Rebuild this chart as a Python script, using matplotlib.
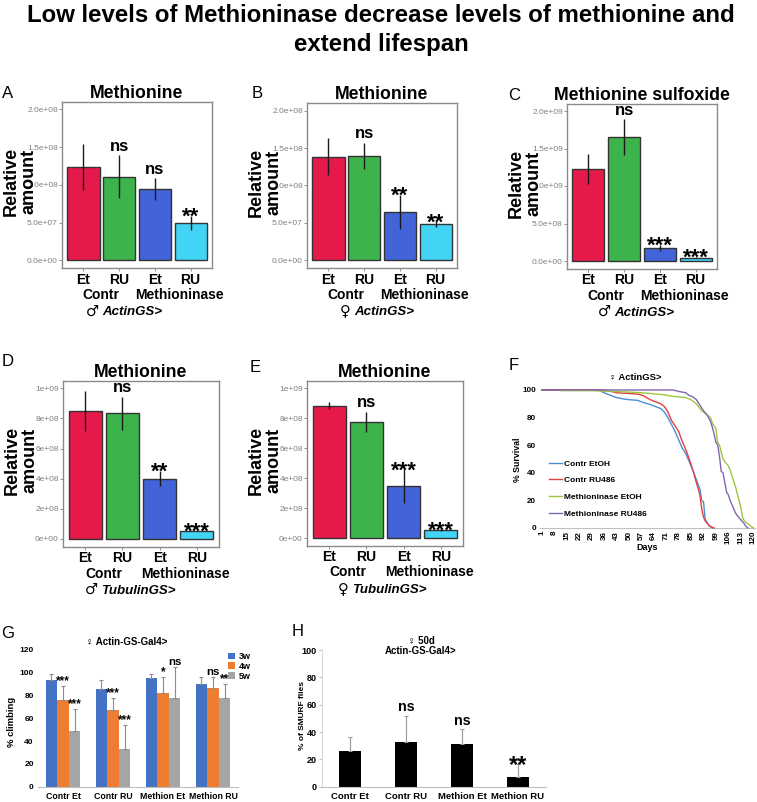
import matplotlib
matplotlib.use('Agg')
import matplotlib.pyplot as plt
from matplotlib.transforms import blended_transform_factory
import numpy as np

W, H = 757, 802
plt.rcParams['font.family'] = ['Liberation Sans', 'DejaVu Sans']
plt.rcParams['axes.linewidth'] = 0.8

# ---------------- data ----------------
main_title_1 = 'Low levels of Methioninase decrease levels of methionine and'
main_title_2 = 'extend lifespan'

bar_groups = ['Et', 'RU', 'Et', 'RU']
genotype_labels = ['Contr', 'Methioninase']
bar_colors = ['#e6194b', '#3cb44b', '#4363d8', '#42d4f4']

A_title = 'Methionine'
A_mean = [1.24e8, 1.11e8, 0.945e8, 0.495e8]
A_se = [0.305e8, 0.28e8, 0.145e8, 0.09e8]
A_sig = ['', 'ns', 'ns', '**']
A_driver = '\u2642 ActinGS>'

B_title = 'Methionine'
B_mean = [1.385e8, 1.394e8, 0.65e8, 0.486e8]
B_se = [0.25e8, 0.18e8, 0.227e8, 0.035e8]
B_sig = ['', 'ns', '**', '**']
B_driver = '\u2640 ActinGS>'

AB_ticks = [0, 5e7, 1e8, 1.5e8, 2e8]
AB_ticklabels = ['0.0e+00', '5.0e+07', '1.0e+08', '1.5e+08', '2.0e+08']

C_title = 'Methionine sulfoxide'
C_mean = [1.222e9, 1.649e9, 0.178e9, 0.044e9]
C_se = [0.2e9, 0.24e9, 0.042e9, 0.006e9]
C_sig = ['', 'ns', '***', '***']
C_ticks = [0, 5e8, 1e9, 1.5e9, 2e9]
C_ticklabels = ['0.0e+00', '5.0e+08', '1.0e+09', '1.5e+09', '2.0e+09']
C_driver = '\u2642 ActinGS>'

D_title = 'Methionine'
D_mean = [0.85e9, 0.834e9, 0.40e9, 0.053e9]
D_se = [0.134e9, 0.111e9, 0.051e9, 0.003e9]
D_sig = ['', 'ns', '**', '***']
D_driver = '\u2642 TubulinGS>'

E_title = 'Methionine'
E_mean = [0.884e9, 0.777e9, 0.347e9, 0.053e9]
E_se = [0.023e9, 0.067e9, 0.111e9, 0.005e9]
E_sig = ['', 'ns', '***', '***']
E_driver = '\u2640 TubulinGS>'

DE_ticks = [0, 2e8, 4e8, 6e8, 8e8, 1e9]
DE_ticklabels = ['0e+00', '2e+08', '4e+08', '6e+08', '8e+08', '1e+09']

# survival (panel F)
surv_title = '\u2640 ActinGS>'
surv_day_ticks = list(range(1, 121, 7))
contr_etoh_days = [1, 33, 36, 40, 43, 47, 50, 55, 58, 62, 65, 68, 70, 72, 74, 76, 78, 80, 82, 84, 86, 88, 90, 91, 92, 93, 95, 97]
contr_etoh_surv = [100, 100, 98, 96, 94.5, 93.5, 93, 92.5, 91, 89.5, 88, 86.5, 84, 80, 75, 70, 64, 58, 54, 48, 42, 35, 28, 20, 19, 6, 2, 0]
contr_ru_days = [1, 35, 40, 43, 50, 55, 58, 62, 65, 68, 70, 72, 74, 76, 78, 80, 82, 84, 86, 88, 90, 91, 92, 93, 95, 96, 98]
contr_ru_surv = [100, 100, 99, 98, 97.5, 97, 96, 93, 91.5, 90, 88, 84, 78, 74, 70, 63, 57, 50, 42, 33, 24, 14, 8, 5, 2, 1, 0]
meth_etoh_days = [12, 30, 40, 50, 57, 62, 66, 70, 74, 78, 82, 85, 88, 91, 94, 96, 97, 98, 99, 100, 101, 102, 103, 104, 106, 107, 108, 109, 110, 111, 112, 113, 114, 115, 117, 119, 120]
meth_etoh_surv = [99.5, 99.5, 99, 98.5, 98, 97.5, 97, 96.5, 95.5, 95, 94.5, 93, 90, 85, 82, 80, 76, 74, 72, 62, 60, 55, 50, 48, 45, 42, 38, 34, 30, 25, 20, 15, 8, 5, 3, 1, 0]
meth_ru_days = [1, 75, 78, 82, 84, 86, 88, 90, 92, 94, 96, 97, 98, 99, 100, 101, 102, 103, 104, 105, 106, 107, 108, 109, 110, 111, 113, 115, 116, 117]
meth_ru_surv = [100, 100, 99, 98, 96, 95, 93, 89, 85, 82, 77, 73, 68, 62, 60, 52, 41, 40, 33, 26, 24, 20, 17, 14, 11, 9, 6, 3, 1, 0]
surv_labels = ['Contr EtOH', 'Contr RU486', 'Methioninase EtOH', 'Methioninase RU486']
surv_colors = ['#4a8fd6', '#e2403f', '#9dc640', '#8466b0']

# climbing (panel G)
climb_title = '\u2640 Actin-GS-Gal4>'
climb_groups = ['Contr Et', 'Contr RU', 'Methion Et', 'Methion RU']
climb_weeks = ['3w', '4w', '5w']
climb_3w = [94, 86, 95, 90]
climb_3w_err = [5, 8, 4, 6]
climb_4w = [76, 67, 82, 87]
climb_4w_err = [12, 11, 14, 9]
climb_5w = [49, 33, 78, 78]
climb_5w_err = [19, 21, 27, 12]
climb_3w_sig = ['', '', '', '']
climb_4w_sig = ['***', '***', '*', 'ns']
climb_5w_sig = ['***', '***', 'ns', '**']
climb_colors = ['#4472c4', '#ed7d31', '#a5a5a5']

# smurf (panel H)
smurf_title = '\u2640 50d\nActin-GS-Gal4>'
smurf_groups = ['Contr Et', 'Contr RU', 'Methion Et', 'Methion RU']
smurf_mean = [26, 33, 31, 7]
smurf_err = [10, 19, 11, 9.5]
smurf_sig = ['', 'ns', 'ns', '**']

# ---------------- figure ----------------
fig = plt.figure(figsize=(W / 100, H / 100), dpi=100)
driver_texts = []


def pax(x0, y0, x1, y1):
    return fig.add_axes([x0 / W, 1 - y1 / H, (x1 - x0) / W, (y1 - y0) / H])


def ftext(x, y, s, **kw):
    return fig.text(x / W, 1 - y / H, s, **kw)


def gg_panel(box, title, mean, se, sig, R, ticks, ticklabels, driver, driver_x):
    x0, y0, x1, y1 = box
    ax = pax(x0, y0, x1, y1)
    xs = np.arange(1, 5)
    mean = np.array(mean)
    se = np.array(se)
    ax.bar(xs, mean, width=0.9, color=bar_colors, edgecolor='#333333', linewidth=1.0, zorder=2)
    ax.vlines(xs, mean - se, mean + se, color='#1a1a1a', lw=1.0, zorder=3)
    ax.set_xlim(0.4, 4.6)
    ax.set_ylim(-0.05 * R, 1.05 * R)
    ax.set_yticks(ticks, ticklabels)
    ax.set_xticks(xs, bar_groups, fontsize=10, fontweight='bold')
    ax.tick_params(axis='y', labelsize=6, labelcolor='#808080', color='#808080', length=2, width=0.6, pad=1)
    ax.tick_params(axis='x', color='#808080', length=2, width=0.6, pad=1.5)
    for sp in ax.spines.values():
        sp.set_color('#8a8a8a')
        sp.set_linewidth(1.0)
    ax.set_title(title, fontsize=12.7, fontweight='bold', pad=2)
    for x, m, s, lab in zip(xs, mean, se, sig):
        if not lab:
            continue
        if '*' in lab:
            ax.annotate(lab, (x, m + s), xytext=(0, -5.0), textcoords='offset points',
                        ha='center', va='baseline', fontsize=16, fontweight='bold', zorder=4)
        else:
            ax.annotate(lab, (x, m + s), xytext=(0, 3), textcoords='offset points',
                        ha='center', va='baseline', fontsize=12, fontweight='bold', zorder=4)
    trans = blended_transform_factory(ax.transData, fig.transFigure)
    yrow2 = y1 + 27
    ax.text(1.5, 1 - yrow2 / H, genotype_labels[0], transform=trans, ha='center', va='center',
            fontsize=10, fontweight='bold')
    ax.text(3.7, 1 - yrow2 / H, genotype_labels[1], transform=trans, ha='center', va='center',
            fontsize=10, fontweight='bold')
    sym, rest = driver.split(' ', 1)
    ts = ftext(driver_x, y1 + 47.5, sym, ha='left', va='baseline', fontsize=10.5,
               family=['DejaVu Sans', 'Liberation Sans'])
    tr = ftext(driver_x, y1 + 47.5, rest, ha='left', va='baseline', fontsize=9.5,
               fontweight='bold', fontstyle='italic')
    driver_texts.append((ts, tr, driver_x))
    ftext(x0 - 42, (y0 + y1) / 2 - 3, 'Relative\namount', rotation=90, ha='center', va='center',
          multialignment='center', fontsize=13, fontweight='bold', linespacing=1.05)
    return ax


gg_panel((62, 101.8, 212, 267.9), A_title, A_mean, A_se, A_sig, 2e8, AB_ticks, AB_ticklabels, A_driver, 124)
gg_panel((307, 103.2, 457, 267.8), B_title, B_mean, B_se, B_sig, 2e8, AB_ticks, AB_ticklabels, B_driver, 377)
gg_panel((567, 103.5, 717, 268.5), C_title, C_mean, C_se, C_sig, 2e9, C_ticks, C_ticklabels, C_driver, 636)
gg_panel((63, 380.8, 219, 546.5), D_title, D_mean, D_se, D_sig, 1e9, DE_ticks, DE_ticklabels, D_driver, 130)
gg_panel((307, 380.8, 463, 545.5), E_title, E_mean, E_se, E_sig, 1e9, DE_ticks, DE_ticklabels, E_driver, 382)

# ---------------- panel F ----------------
axF = pax(540, 390, 755, 528)
for d, s, c, l in zip([contr_etoh_days, contr_ru_days, meth_etoh_days, meth_ru_days],
                      [contr_etoh_surv, contr_ru_surv, meth_etoh_surv, meth_ru_surv],
                      surv_colors, surv_labels):
    axF.plot(d, s, color=c, lw=1.0, label=l, clip_on=False, zorder=3)
axF.set_xlim(0, 121)
axF.set_ylim(0, 100)
axF.set_xticks(surv_day_ticks, [str(t) for t in surv_day_ticks], rotation=90, fontsize=5.8, fontweight='bold')
axF.set_yticks([0, 20, 40, 60, 80, 100], ['0', '20', '40', '60', '80', '100'], fontsize=5.8, fontweight='bold')
axF.tick_params(axis='x', length=0, pad=2)
axF.tick_params(axis='y', length=0, pad=3)
for k in ['top', 'right', 'left']:
    axF.spines[k].set_visible(False)
axF.spines['bottom'].set_color('#bfbfbf')
axF.legend(loc='upper left', bbox_to_anchor=(549 / W, 1 - 460 / H), bbox_transform=fig.transFigure,
           frameon=False, handlelength=1.5, handletextpad=0.3, labelspacing=1.05, borderpad=0,
           borderaxespad=0, prop={'weight': 'bold', 'size': 6})
ftext(647, 548, 'Days', ha='center', va='center', fontsize=6.5, fontweight='bold')
ftext(517, 460, '% Survival', ha='center', va='center', rotation=90, fontsize=6.3, fontweight='bold')
ftext(635, 377, surv_title, ha='center', va='center', fontsize=6.8, fontweight='bold')

# ---------------- panel G ----------------
axG = pax(38, 650, 238, 786.7)
xg = np.arange(4)
bw = 0.233
for k, (vals, errs, sigs) in enumerate([(climb_3w, climb_3w_err, climb_3w_sig),
                                        (climb_4w, climb_4w_err, climb_4w_sig),
                                        (climb_5w, climb_5w_err, climb_5w_sig)]):
    pos = xg + (k - 1) * bw
    axG.bar(pos, vals, bw, color=climb_colors[k], label=climb_weeks[k], zorder=2)
    axG.errorbar(pos, vals, yerr=[np.zeros(4), errs], fmt='none', ecolor='#8c8c8c',
                 elinewidth=0.8, capsize=1.5, capthick=0.8, zorder=3)
    for p, v, e, s in zip(pos, vals, errs, sigs):
        if s:
            fs = 8.2 if s == 'ns' else 8.5
            axG.annotate(s, (p, v + e), xytext=(0, 1.5), textcoords='offset points', ha='center',
                         va='baseline', fontsize=fs, fontweight='bold', zorder=4)
axG.set_xlim(-0.5, 3.5)
axG.set_ylim(0, 120)
axG.set_yticks(range(0, 121, 20), [str(v) for v in range(0, 121, 20)], fontsize=6, fontweight='bold')
axG.set_xticks(xg, climb_groups, fontsize=6.3, fontweight='bold')
axG.tick_params(axis='y', length=0, pad=3)
axG.tick_params(axis='x', length=0, pad=4)
for k in ['top', 'right', 'left']:
    axG.spines[k].set_visible(False)
axG.spines['bottom'].set_color('#bfbfbf')
axG.legend(loc='upper left', bbox_to_anchor=(228 / W, 1 - 652 / H), bbox_transform=fig.transFigure,
           frameon=False, handlelength=0.75, handleheight=0.75, handletextpad=0.4, labelspacing=0.1,
           borderpad=0, borderaxespad=0, prop={'weight': 'bold', 'size': 6.5})
ftext(12, 722, '% climbing', ha='center', va='center', rotation=90, fontsize=6.8, fontweight='bold')
ftext(127, 642, climb_title, ha='center', va='center', fontsize=7, fontweight='bold')

# ---------------- panel H ----------------
axH = pax(322, 650, 546, 786.7)
xh = np.arange(4)
axH.bar(xh, smurf_mean, 0.4, color='black', zorder=2)
axH.errorbar(xh, smurf_mean, yerr=[np.zeros(4), smurf_err], fmt='none', ecolor='#999999',
             elinewidth=0.8, capsize=1.5, capthick=0.8, zorder=3)
for p, v, e, s in zip(xh, smurf_mean, smurf_err, smurf_sig):
    if not s:
        continue
    if '*' in s:
        axH.annotate(s, (p, v + e), xytext=(0, -5.5), textcoords='offset points', ha='center',
                     va='baseline', fontsize=17, fontweight='bold', zorder=4)
    else:
        axH.annotate(s, (p, v + e), xytext=(0, 3), textcoords='offset points', ha='center',
                     va='baseline', fontsize=10.3, fontweight='bold', zorder=4)
axH.set_xlim(-0.5, 3.5)
axH.set_ylim(0, 100)
axH.set_yticks(range(0, 101, 20), [str(v) for v in range(0, 101, 20)], fontsize=6.5, fontweight='bold')
axH.set_xticks(xh, smurf_groups, fontsize=6.8, fontweight='bold')
axH.tick_params(axis='y', length=2, color='#bfbfbf', pad=2)
axH.tick_params(axis='x', length=0, pad=4)
for k in ['top', 'right']:
    axH.spines[k].set_visible(False)
axH.spines['bottom'].set_color('#bfbfbf')
axH.spines['left'].set_color('#d9d9d9')
ftext(302, 715, '% of SMURF flies', ha='center', va='center', rotation=90, fontsize=6, fontweight='bold')
ftext(421, 646, smurf_title, ha='center', va='center', fontsize=7, fontweight='bold', linespacing=1.05)

# ---------------- panel letters ----------------
for lab, x, y in [('A', 8, 93), ('B', 257, 93), ('C', 514, 95), ('D', 8, 361), ('E', 255, 367),
                  ('F', 514, 366), ('G', 8, 633), ('H', 298, 632)]:
    ftext(x, y, lab, ha='center', va='center', fontsize=12)

# ---------------- main title ----------------
tf = ['Liberation Sans', 'DejaVu Sans']
t1 = ftext(381, 16, main_title_1, ha='center', va='center', fontsize=17, fontweight='bold', family=tf)
t2 = ftext(381, 44, main_title_2, ha='center', va='center', fontsize=17, fontweight='bold', family=tf)
fig.canvas.draw()
renderer = fig.canvas.get_renderer()
wpx = t1.get_window_extent(renderer).width
fs = 17 * 710 / wpx
t1.set_fontsize(fs)
t2.set_fontsize(fs)

# centre the split driver labels (symbol + italic genotype)
for ts, tr, cx in driver_texts:
    w1 = ts.get_window_extent(renderer).width
    w2 = tr.get_window_extent(renderer).width
    gap = 3
    left = cx - (w1 + gap + w2) / 2
    ts.set_x(left / W)
    tr.set_x((left + w1 + gap) / W)

fig.savefig('out.png', dpi=100)
